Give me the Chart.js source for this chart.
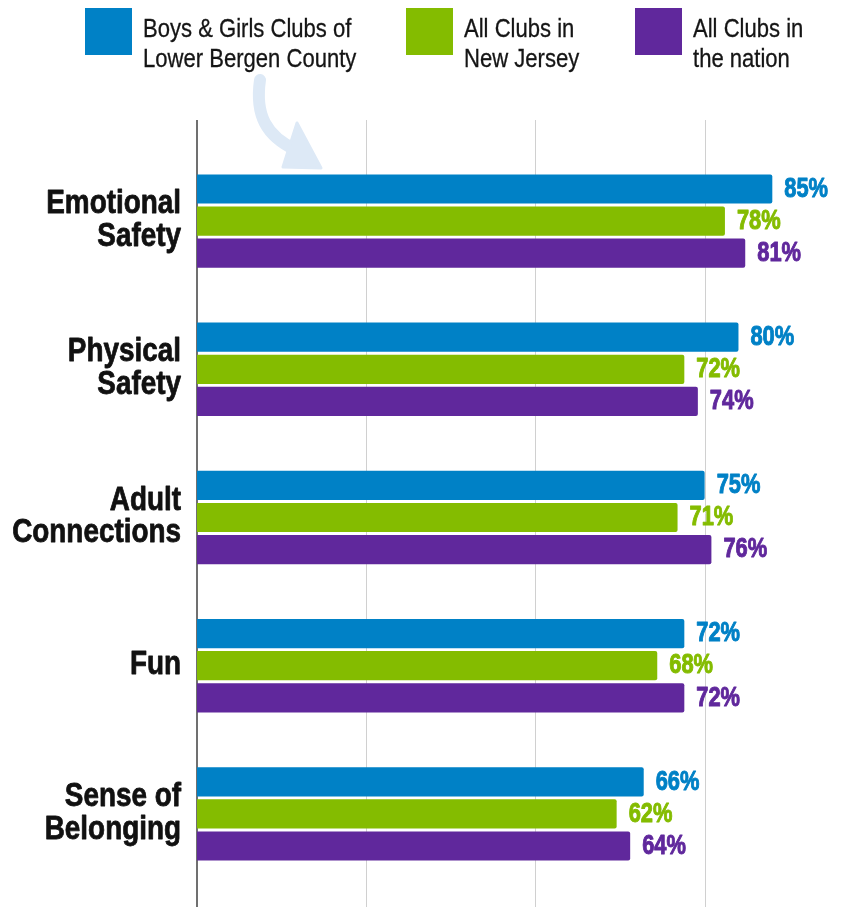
<!DOCTYPE html>
<html>
<head>
<meta charset="utf-8">
<script src="https://cdn.jsdelivr.net/npm/chart.js@4.4.1/dist/chart.umd.min.js"></script>
<style>
  html, body { margin: 0; padding: 0; background: #ffffff; }
  #wrap { position: relative; width: 843px; height: 907px; overflow: hidden; }
  #chart-box { position: absolute; left: 0; top: 0; width: 843px; height: 907px; }
  .legend-item { position: absolute; top: 8px; }
  .legend-box { position: absolute; left: 0; top: 0; width: 47px; height: 47px; }
  .legend-text {
    position: absolute; top: 5px; white-space: nowrap;
    font-family: "Liberation Sans", Arial, sans-serif;
    font-size: 25.5px; line-height: 30px; color: #151515;
    -webkit-text-stroke: 0.3px #151515;
    transform: scaleX(0.865); transform-origin: 0 0;
  }
  #arrow { position: absolute; left: 0; top: 0; pointer-events: none; }
</style>
</head>
<body>
<div id="wrap">
  <div id="chart-box"><canvas id="survey-chart"></canvas></div>
  <svg id="arrow" width="843" height="200">
    <path d="M260 80 C 255 115, 266 136, 296 150" fill="none" stroke="#dde9f6" stroke-width="12" stroke-linecap="round"/>
    <path d="M297 123 L 321 168 L 283 167 Z" fill="#dde9f6" stroke="#dde9f6" stroke-width="3" stroke-linejoin="round"/>
  </svg>
  <div id="legend"></div>
</div>
<script>
// --- data ---
const categories = [
    ['Emotional', 'Safety'],
    ['Physical', 'Safety'],
    ['Adult', 'Connections'],
    ['Fun'],
    ['Sense of', 'Belonging']
];
const seriesNames = [
    ['Boys & Girls Clubs of', 'Lower Bergen County'],
    ['All Clubs in', 'New Jersey'],
    ['All Clubs in', 'the nation']
];
const lowerBergen = [85, 80, 75, 72, 66];
const newJersey = [78, 72, 71, 68, 62];
const nation = [81, 74, 76, 72, 64];
const gridValues = [25, 50, 75];

const COLORS = ['#0081c6', '#84bc00', '#60289c'];
const FONT = '"Liberation Sans", Arial, sans-serif';

// legend in html so text stays real text
const legendLeft = [85, 406, 635];
const legendEl = document.getElementById('legend');
seriesNames.forEach(function(lines, i) {
    const item = document.createElement('div');
    item.className = 'legend-item';
    item.style.left = legendLeft[i] + 'px';
    const box = document.createElement('div');
    box.className = 'legend-box';
    box.style.background = COLORS[i];
    const text = document.createElement('div');
    text.className = 'legend-text';
    text.style.left = '57.5px';
    lines.forEach(function(line, k) {
        if (k > 0) text.appendChild(document.createElement('br'));
        text.appendChild(document.createTextNode(line));
    });
    item.appendChild(box);
    item.appendChild(text);
    legendEl.appendChild(item);
});

const gridPlugin = {
    id: 'longGrid',
    beforeDatasetsDraw(chart) {
        const ctx = chart.ctx;
        const x = chart.scales.x;
        ctx.save();
        ctx.strokeStyle = '#d0d0d0';
        ctx.lineWidth = 1;
        gridValues.forEach(function(v) {
            const px = Math.round(x.getPixelForValue(v)) + 0.5;
            ctx.beginPath();
            ctx.moveTo(px, 120);
            ctx.lineTo(px, chart.height);
            ctx.stroke();
        });
        // zero line is darker
        const zx = x.getPixelForValue(0);
        ctx.strokeStyle = '#707070';
        ctx.lineWidth = 2;
        ctx.beginPath();
        ctx.moveTo(zx, 120);
        ctx.lineTo(zx, chart.height);
        ctx.stroke();
        ctx.restore();
    }
};

// condensed, heavy look: bold face squeezed horizontally plus a thin outline
function narrowText(ctx, text, x, y, squeeze, weight) {
    ctx.save();
    ctx.translate(x, y);
    ctx.scale(squeeze, 1);
    ctx.fillText(text, 0, 0);
    if (weight) {
        ctx.lineWidth = weight;
        ctx.lineJoin = 'round';
        ctx.strokeStyle = ctx.fillStyle;
        ctx.strokeText(text, 0, 0);
    }
    ctx.restore();
}

const categoryLabels = {
    id: 'categoryLabels',
    afterDraw(chart) {
        const ctx = chart.ctx;
        const y = chart.scales.y;
        ctx.save();
        ctx.font = 'bold 34px ' + FONT;
        ctx.fillStyle = '#111111';
        ctx.textAlign = 'right';
        ctx.textBaseline = 'middle';
        chart.data.labels.forEach(function(lines, i) {
            const cy = y.getPixelForValue(i) - 1;
            const step = 32.5;
            const start = cy - (lines.length - 1) * step / 2;
            lines.forEach(function(line, k) {
                narrowText(ctx, line, 181, start + k * step, 0.82, 0.8);
            });
        });
        ctx.restore();
    }
};

const valueLabels = {
    id: 'valueLabels',
    afterDatasetsDraw(chart) {
        const ctx = chart.ctx;
        ctx.save();
        ctx.font = 'bold 28px ' + FONT;
        ctx.textAlign = 'left';
        ctx.textBaseline = 'middle';
        chart.data.datasets.forEach(function(ds, di) {
            const meta = chart.getDatasetMeta(di);
            meta.data.forEach(function(bar, i) {
                ctx.fillStyle = ds.backgroundColor;
                narrowText(ctx, ds.data[i] + '%', bar.x + 12, bar.y, 0.78, 1);
            });
        });
        ctx.restore();
    }
};

const datasets = [lowerBergen, newJersey, nation].map(function(values, i) {
    return {
        label: seriesNames[i].join(' '),
        data: values,
        backgroundColor: COLORS[i],
        borderWidth: 0,
        borderRadius: 2,
        borderSkipped: 'start',
        barPercentage: 0.91,
        categoryPercentage: 0.65
    };
});

new Chart(document.getElementById('survey-chart'), {
    type: 'bar',
    data: { labels: categories, datasets: datasets },
    options: {
        indexAxis: 'y',
        responsive: true,
        maintainAspectRatio: false,
        animation: false,
        layout: { padding: { top: 147, bottom: 19, right: 3, left: 0 } },
        plugins: {
            legend: { display: false },
            tooltip: { enabled: false }
        },
        scales: {
            x: {
                display: false,
                min: 0,
                max: 95
            },
            y: {
                grid: { display: false, drawTicks: false },
                border: { display: false },
                ticks: { display: false },
                afterFit: function(scale) {
                    scale.width = 197;
                    scale.paddingTop = 0;
                    scale.paddingBottom = 0;
                }
            }
        }
    },
    plugins: [gridPlugin, valueLabels, categoryLabels]
});
</script>
</body>
</html>
